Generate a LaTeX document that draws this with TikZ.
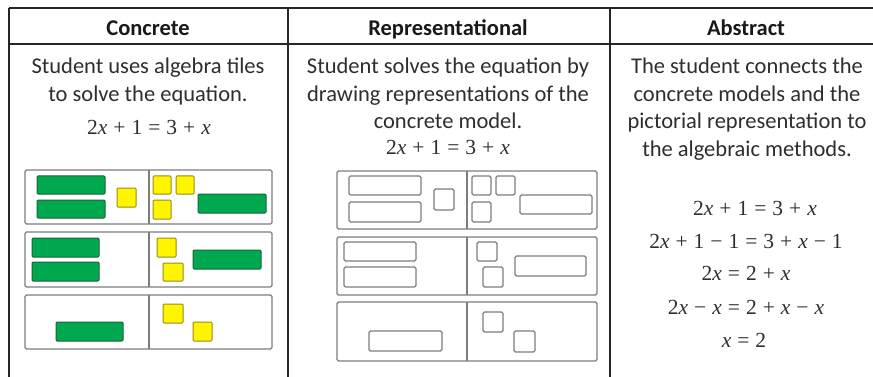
\documentclass[tikz,border=0pt]{standalone}
\usepackage{fontspec}
\setmainfont{Carlito}
\newfontfamily\eqfont{Liberation Serif}
\usetikzlibrary{positioning}

\definecolor{tilegreen}{RGB}{0,168,80}
\definecolor{tilegreenedge}{RGB}{25,100,55}
\definecolor{tileyellow}{RGB}{255,245,0}
\definecolor{tileyellowedge}{RGB}{150,140,25}
\definecolor{panelgray}{RGB}{125,125,125}

% italic x in the equations
\newcommand{\xv}{\textit{x}}
% equation font with slightly wider spaces
\newcommand{\eqsetup}{\eqfont\fontsize{21.5}{24}\selectfont\spaceskip=6pt plus 1pt\relax}

\begin{document}
\begin{tikzpicture}[
    x=1pt, y=-1pt,
    rule/.style={line width=1.7pt, draw=black!85},
    panel/.style={draw=panelgray, line width=1.3pt, rounded corners=1.5pt},
    xtile/.style={draw=tilegreenedge, fill=tilegreen, line width=1pt, rounded corners=1pt},
    unittile/.style={draw=tileyellowedge, fill=tileyellow, line width=1pt, rounded corners=1pt},
    sketch/.style={draw=panelgray, line width=1.3pt, rounded corners=1.5pt},
    head/.style={anchor=base, inner sep=0pt, font=\bfseries\fontsize{22.5}{24}\selectfont, text=black!90},
    blurb/.style={align=center, anchor=north, inner sep=0pt, font=\fontsize{22.5}{27.5}\selectfont, text=black!82},
    eq/.style={anchor=base, inner sep=0pt, font=\eqsetup, text=black!82}
]
    \useasboundingbox (0,0) rectangle (873,377);

    % Table rules
    \draw[rule] (9,8) -- (873,8);
    \draw[rule] (9,44) -- (873,44);
    \foreach \xpos in {9, 288, 610}
        \draw[rule] (\xpos,8) -- (\xpos,377);

    % Headers
    \node[head] (concrete) at (148,35.5) {Concrete};
    \node[head] (representational) at (448,35.5) {Representational};
    \node[head] (abstract) at (746,35.5) {Abstract};

    % Descriptions
    \node[blurb] (concretetext) at (148,58) {Student uses algebra tiles\\to solve the equation.};
    \node[blurb] (reptext) at (448,58) {Student solves the equation by\\drawing representations of the\\concrete model.};
    \node[blurb] (abstracttext) at (747,58) {The student connects the\\concrete models and the\\pictorial representation to\\the algebraic methods.};

    \node[eq] (concreteeq) at (149,135) {2\xv\ + 1 = 3 + \xv};
    \node[eq] (repeq) at (448,155) {2\xv\ + 1 = 3 + \xv};

    % Solving steps
    \node[eq] (stepa) at (755,215) {2\xv\ + 1 = 3 + \xv};
    \node[eq] (stepb) at (746,248) {2\xv\ + 1 − 1 = 3 + \xv\ − 1};
    \node[eq] (stepc) at (746,280) {2\xv\ = 2 + \xv};
    \node[eq] (stepd) at (746,314) {2\xv\ − \xv\ = 2 + \xv\ − \xv};
    \node[eq] (stepe) at (744,347) {\xv\ = 2};

    % Algebra tile mats
    \foreach \ytop/\ybot in {170/224, 232/287, 295/349} {
        \draw[panel] (25,\ytop) rectangle (272,\ybot);
        \draw[panel] (149,\ytop) -- (149,\ybot);
    }
    \draw[xtile] (37,176) rectangle (105,194);
    \draw[xtile] (37,200) rectangle (105,218);
    \draw[unittile] (117,188) rectangle (136,207);
    \draw[unittile] (153,176) rectangle (171,194);
    \draw[unittile] (176,176) rectangle (194,194);
    \draw[unittile] (153,200) rectangle (171,219);
    \draw[xtile] (198,194) rectangle (266,213);

    \draw[xtile] (32,238) rectangle (99,257);
    \draw[xtile] (32,262) rectangle (99,281);
    \draw[unittile] (157,238) rectangle (176,257);
    \draw[unittile] (163,263) rectangle (183,281);
    \draw[xtile] (193,250) rectangle (261,269);

    \draw[xtile] (56,322) rectangle (123,341);
    \draw[unittile] (163,304) rectangle (183,323);
    \draw[unittile] (193,322) rectangle (212,341);

    % Drawn representations
    \foreach \ytop/\ybot in {171/229, 237/295, 302/361} {
        \draw[panel] (337,\ytop) rectangle (597,\ybot);
        \draw[panel] (467,\ytop) -- (467,\ybot);
    }
    \draw[sketch] (349,176) rectangle (421,195);
    \draw[sketch] (349,202) rectangle (421,222);
    \draw[sketch] (434,189) rectangle (454,210);
    \draw[sketch] (472,176) rectangle (491,195);
    \draw[sketch] (496,176) rectangle (515,195);
    \draw[sketch] (472,202) rectangle (491,222);
    \draw[sketch] (520,195) rectangle (592,214);

    \draw[sketch] (344,242) rectangle (416,261);
    \draw[sketch] (344,267) rectangle (416,287);
    \draw[sketch] (477,242) rectangle (497,261);
    \draw[sketch] (483,267) rectangle (503,287);
    \draw[sketch] (515,256) rectangle (586,276);

    \draw[sketch] (369,331) rectangle (442,351);
    \draw[sketch] (483,312) rectangle (503,332);
    \draw[sketch] (514,331) rectangle (535,352);
\end{tikzpicture}
\end{document}
